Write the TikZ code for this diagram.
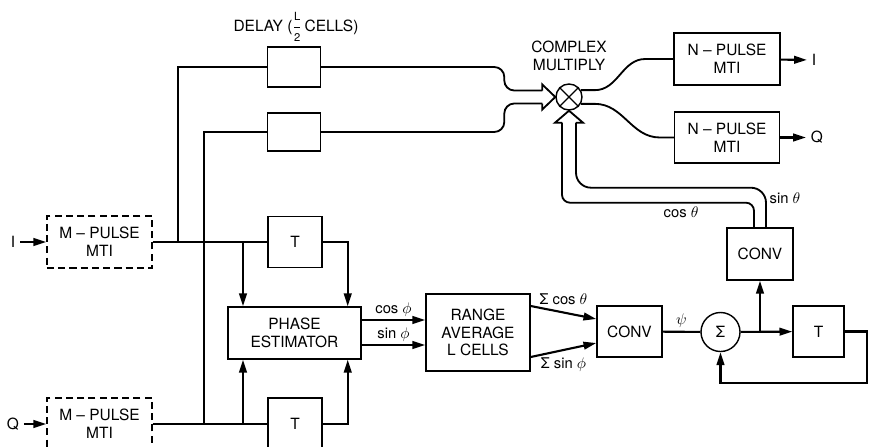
\documentclass[tikz,border=0pt]{standalone}
\usepackage{fontspec}
\setmainfont{TeX Gyre Heros}
\usetikzlibrary{arrows.meta,positioning,calc}

\begin{document}
\begin{tikzpicture}[x=0.025cm, y=-0.025cm,
  font=\fontsize{11}{12.5}\selectfont,
  blk/.style={rectangle, draw, line width=1pt, align=center, inner sep=2pt},
  dblk/.style={blk, dash pattern=on 5pt off 3pt},
  arr/.style={-{Triangle[length=3.2mm,width=1.9mm]}, line width=1.5pt},
  ln/.style={line width=1.5pt},
  dbl/.style={line width=1.3pt, line join=miter},
  sumc/.style={circle, draw, line width=1pt, inner sep=0pt},
  lbl/.style={font=\fontsize{10.5}{12}\selectfont, inner sep=2pt}
]
\clip (0,0) rectangle (870,447);

% I / Q front end
\node[dblk, minimum width=2.625cm, minimum height=1.3cm] (mpI) at (99.5,242) {M -- PULSE\\MTI};
\node[dblk, minimum width=2.625cm, minimum height=1.3cm] (mpQ) at (99.5,424) {M -- PULSE\\MTI};
\node (inI) at (13,242) {I};
\node (inQ) at (13,424) {Q};
\draw[arr] (inI) -- (mpI);
\draw[arr] (inQ) -- (mpQ);

\node[blk, minimum width=1.325cm, minimum height=1cm] (delayA) at (294,67) {};
\node[blk, minimum width=1.325cm, minimum height=0.95cm] (delayB) at (294,132) {};
\node[anchor=base, inner sep=1pt] (dlab) at ($(delayA.north)+(2,-15)$) {DELAY ($\displaystyle\frac{\mbox{\footnotesize L}}{\mbox{\footnotesize 2}}$\,CELLS)};

\node[blk, minimum width=1.35cm, minimum height=1.275cm] (tA) at (295,242) {T};
\node[blk, minimum width=1.35cm, minimum height=1.3cm] (tB) at (295,424) {T};
\node[blk, minimum width=3.325cm, minimum height=1.3cm] (pe) at (294.5,333) {PHASE\\ESTIMATOR};
\node[blk, minimum width=2.6cm, minimum height=1.925cm] (rng) at (478,332.5) {RANGE\\AVERAGE\\L CELLS};

\draw[ln] (mpI) -- (tA);
\draw[ln] (mpQ) -- (tB);
\coordinate (jIa) at (178,242);
\coordinate (jIb) at (243,242);
\coordinate (jQa) at (204,424);
\coordinate (jQb) at (243,424);
\draw[ln] (jIa) |- (delayA);
\draw[ln] (jQa) |- (delayB);
\draw[arr] (jIb) -- (jIb |- pe.north);
\draw[arr] (jQb) -- (jQb |- pe.south);
\draw[arr] (tA) -| ($(pe.north east)+(-14,0)$);
\draw[arr] (tB) -| ($(pe.south east)+(-14,0)$);

\draw[arr] ($(pe.east)+(0,-13)$) coordinate (cphi) -- node[above, lbl] {cos $\phi$} (cphi -| rng.west);
\draw[arr] ($(pe.east)+(0,12)$) coordinate (sphi) -- node[above, lbl] {sin $\phi$} (sphi -| rng.west);

% angle smoothing loop
\node[blk, minimum width=1.625cm, minimum height=1.275cm] (convA) at (629.5,331.5) {CONV};
\node[sumc, minimum size=0.975cm] (sig) at (720.5,332) {Σ};
\node[blk, minimum width=1.275cm, minimum height=1.275cm] (tC) at (818.5,331.5) {T};
\node[blk, minimum width=1.65cm, minimum height=1.3cm] (convB) at (760,254) {CONV};

\draw[arr] ($(rng.east)+(0,-26.5)$) -- node[above=3pt, lbl] {Σ cos $\theta$} ($(convA.west)+(0,-12.5)$);
\draw[arr] ($(rng.east)+(0,24.5)$) -- node[below=3pt, lbl] {Σ sin $\phi$} ($(convA.west)+(0,11.5)$);
\draw[ln] (convA) -- node[above, lbl] {$\psi$} (sig);
\draw[arr] (sig) -- (tC);
\coordinate (jS) at (convB.south |- sig.east);
\draw[arr] (jS) -- (convB);
\coordinate (fb) at (867,383);
\draw[arr] (tC) -| (fb) -| (sig);

% complex multiply
\node[sumc, minimum size=0.65cm] (mult) at (569,97) {};
\draw[line width=1pt] (mult.45) -- (mult.225) (mult.135) -- (mult.315);
\node[above=0.2cm of mult, align=center] (cmlab) {COMPLEX\\MULTIPLY};

\draw[dbl, rounded corners=2mm] ($(convB.north)+(-6,0)$) |- node[pos=0.69, below, lbl] {cos $\theta$} ($(mult.south)+(-7,92)$) [rounded corners=3.75mm] -- ($(mult.south)+(-7,12)$);
\draw[dbl, rounded corners=3.75mm] ($(convB.north)+(6,0)$) |- node[pos=0.37, right, lbl] {sin $\theta$} ($(mult.south)+(7,77)$) [rounded corners=2mm] -- ($(mult.south)+(7,12)$);
\draw[dbl] ($(mult.south)+(-7,12)$) -- ++(-7,0) -- (mult.south) -- ($(mult.south)+(14,12)$) -- ++(-7,0);

\coordinate (inA) at ($(mult.west)+(-13,-6.5)$);
\coordinate (inB) at ($(mult.west)+(-13,6.5)$);
\draw[dbl, rounded corners=2.5mm] (delayA) -| ($(inA)+(-38,0)$) -- (inA);
\draw[dbl, rounded corners=2.5mm] (delayB) -| ($(inB)+(-38,0)$) -- (inB);
\draw[dbl] (inA) -- ++(0,-6) -- (mult.west) -- ($(inB)+(0,6)$) -- (inB);

% N-pulse MTI outputs
\node[blk, minimum width=2.65cm, minimum height=1.3cm] (npI) at (727,59) {N -- PULSE\\MTI};
\node[blk, minimum width=2.625cm, minimum height=1.275cm] (npQ) at (727,137.5) {N -- PULSE\\MTI};
\draw[dbl] (mult.30) -- ++(14,0) to[out=0,in=180] ($(npI.west)+(-28,0)$) -- (npI);
\draw[dbl] (mult.-30) -- ++(14,0) to[out=0,in=180] ($(npQ.west)+(-14,0)$) -- (npQ);
\node (outI) at (814,60) {I};
\node (outQ) at (817,137.5) {Q};
\draw[arr] (npI) -- (outI);
\draw[arr] (npQ) -- (outQ);
\end{tikzpicture}
\end{document}
